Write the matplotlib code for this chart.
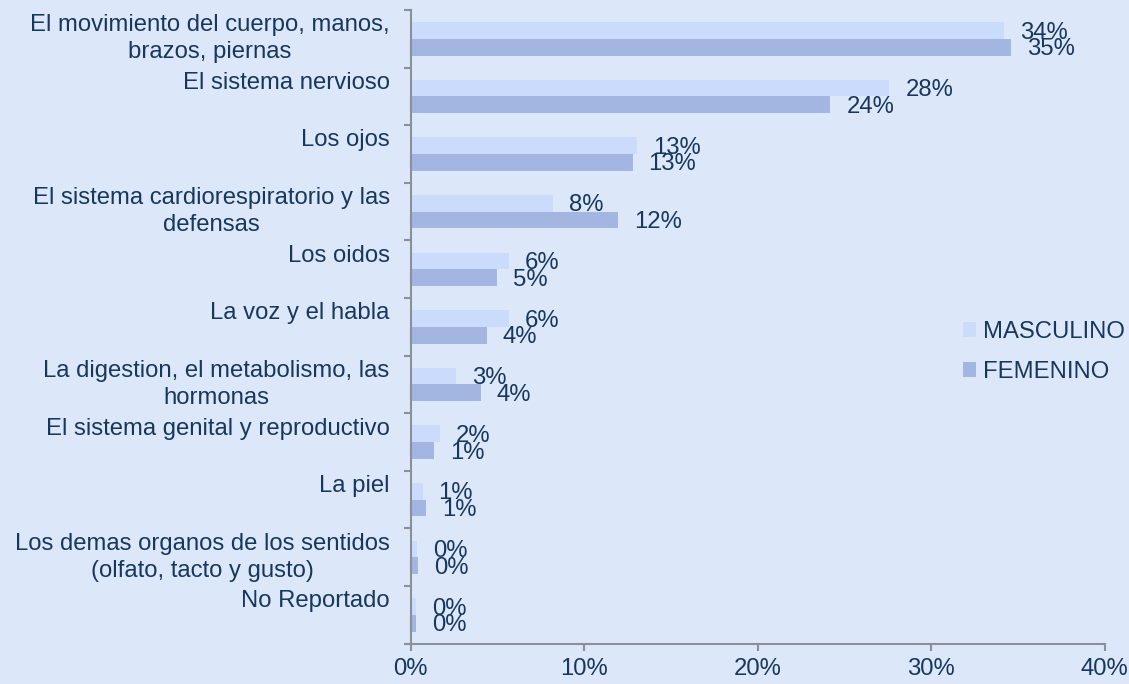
import numpy as np
import matplotlib.pyplot as plt
from matplotlib.ticker import FixedLocator, PercentFormatter

categorias = [
    'El movimiento del cuerpo, manos,\nbrazos, piernas',
    'El sistema nervioso',
    'Los ojos',
    'El sistema cardiorespiratorio y las\ndefensas',
    'Los oidos',
    'La voz y el habla',
    'La digestion, el metabolismo, las\nhormonas',
    'El sistema genital y reproductivo',
    'La piel',
    'Los demas organos de los sentidos\n(olfato, tacto y gusto)',
    'No Reportado',
]
masculino = [34.2, 27.6, 13.05, 8.2, 5.67, 5.65, 2.6, 1.68, 0.7, 0.4, 0.3]
femenino = [34.6, 24.2, 12.8, 11.95, 4.99, 4.4, 4.06, 1.35, 0.9, 0.45, 0.3]
xticks = [0, 10, 20, 30, 40]

bg = '#DCE8F9'
c_masc = '#CBDBFC'
c_fem = '#A3B6E1'
txt = '#17375E'
axis_c = '#8A8F99'
fs = 17.2

plt.rcParams['font.family'] = ['Liberation Sans', 'DejaVu Sans']

fig = plt.figure(figsize=(11.29, 6.84), dpi=100, facecolor=bg)
ax = fig.add_axes([410.5 / 1129, 1 - 643.7 / 684, 694.1 / 1129, 633.7 / 684])
ax.set_facecolor(bg)

y = np.arange(len(categorias))
h = 0.29
b1 = ax.barh(y - h / 2, masculino, height=h, color=c_masc, label='MASCULINO')
b2 = ax.barh(y + h / 2, femenino, height=h, color=c_fem, label='FEMENINO')

for bars, vals in ((b1, masculino), (b2, femenino)):
    for bar, v in zip(bars, vals):
        ax.annotate('%d%%' % round(v), (v, bar.get_y() + bar.get_height() / 2),
                    xytext=(11.5, -1.5), textcoords='offset points',
                    ha='left', va='center', color=txt, fontsize=fs)

ax.set_xlim(0, 40)
ax.set_ylim(len(categorias) - 0.5, -0.5)
ax.xaxis.set_major_locator(FixedLocator(xticks))
ax.xaxis.set_major_formatter(PercentFormatter(decimals=0))

# labels top-aligned like Excel: single lines sit where the first of two would
labels = [c if '\n' in c else c + '\n' for c in categorias]
ax.set_yticks(y)
ax.set_yticklabels(labels, multialignment='center', linespacing=1.3, va='center')
ax.set_yticks(np.arange(len(categorias) + 1) - 0.5, minor=True)
ax.tick_params(axis='y', which='major', length=0, pad=15, labelsize=fs, labelcolor=txt)
ax.tick_params(axis='y', which='minor', length=5, width=1.5, color=axis_c)
ax.tick_params(axis='x', length=5, width=1.5, color=axis_c, pad=5, labelsize=fs, labelcolor=txt)

for s in ('top', 'right'):
    ax.spines[s].set_visible(False)
for s in ('left', 'bottom'):
    ax.spines[s].set_color(axis_c)
    ax.spines[s].set_linewidth(1.5)

leg = ax.legend(loc='center left', bbox_to_anchor=(963 / 1129, 1 - 352 / 684),
                bbox_transform=fig.transFigure, frameon=False, fontsize=fs,
                handlelength=0.55, handleheight=0.55, handletextpad=0.3,
                labelspacing=0.75, borderpad=0, borderaxespad=0)
for t in leg.get_texts():
    t.set_color(txt)

fig.savefig('out.png', dpi=100, facecolor=bg)
